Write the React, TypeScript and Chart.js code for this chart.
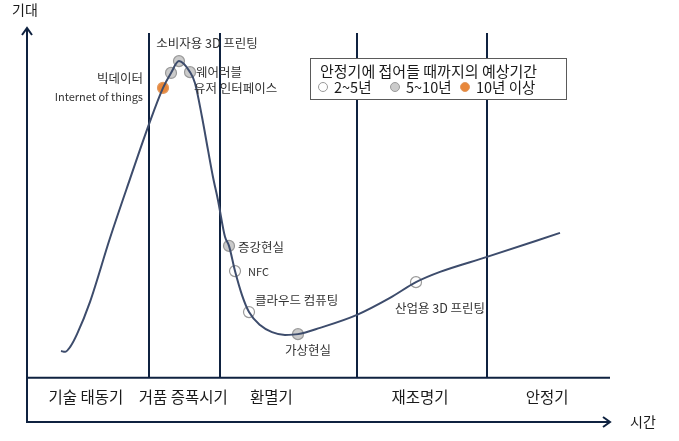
import { useEffect, useRef } from 'react';
import { Chart, registerables } from 'chart.js';

Chart.register(...registerables);

// ---- Data (x = 시간, y = 기대, both on a 0–100 scale) ----
const curveX = [5.83, 6.52, 7.38, 8.58, 10.81, 14.24, 17.67, 20.93, 23.33, 24.7, 26.07, 27.96, 28.82, 30.02, 31.05, 31.9, 32.76, 33.96, 34.65, 35.68, 36.88, 38.08, 39.97, 42.02, 44.25, 46.48, 50.26, 56.6, 62.26, 66.72, 70.84, 78.9, 91.42];
const curveY = [18.0, 17.8, 19.0, 22.3, 30.5, 46.7, 61.7, 75.6, 84.8, 88.6, 91.6, 88.8, 86.0, 77.4, 69.0, 62.2, 56.3, 47.0, 44.7, 38.3, 32.2, 27.9, 24.6, 22.8, 22.1, 22.3, 23.9, 27.2, 31.5, 35.5, 38.1, 41.9, 48.0];

const techNames = ['Internet of things', '빅데이터', '소비자용 3D 프린팅', '웨어러블\n유저 인터페이스', '증강현실', 'NFC', '클라우드 컴퓨팅', '가상현실', '산업용 3D 프린팅'];
const techX = [23.33, 24.7, 26.07, 27.96, 34.65, 35.68, 38.08, 46.48, 66.72];
const techY = [84.8, 88.6, 91.6, 88.8, 44.7, 38.3, 27.9, 22.3, 35.5];
const techGroup = [2, 1, 1, 1, 1, 0, 0, 1, 0];

const groupLabels = ['2~5년', '5~10년', '10년 이상'];
const legendTitle = '안정기에 접어들 때까지의 예상기간';

const phaseLabels = ['기술 태동기', '거품 증폭시기', '환멸기', '재조명기', '안정기'];
const phaseLabelX = [10.1, 26.8, 41.9, 67.4, 89.2];
const phaseBoundaries = [20.93, 33.1, 56.6, 78.9];
const phaseBaseY = 11.2;
const dividerTopY = 98.7;

const yAxisTitle = '기대';
const xAxisTitle = '시간';

// ---- Styles ----
const FONT = '"Noto Sans CJK KR", "Noto Sans", sans-serif';
const AXIS_COLOR = '#0f2240';
const CURVE_COLOR = '#3d4c6c';
const groupFill = ['#ffffff', '#cbcbcb', '#e8873a'];
const groupBorder = ['#9a9a9a', '#9a9a9a', '#e39a60'];

// label placement relative to marker: [dx, dy, align, fontSize]
const labelPlacement: [number, number, CanvasTextAlign, number][] = [
  [-20, 9, 'right', 11],
  [-28, 5, 'right', 12.5],
  [28, -18, 'center', 12.5],
  [6, 0, 'left', 12.5],
  [9, 1, 'left', 12.5],
  [13, 1, 'left', 11],
  [6, -12, 'left', 12.5],
  [10, 16, 'center', 12.5],
  [24, 26, 'center', 12.5],
];

const overlay = {
  id: 'hypeOverlay',
  beforeDatasetsDraw(chart: any) {
    const { ctx, chartArea, scales } = chart;
    const xs = scales.x;
    const ys = scales.y;
    ctx.save();
    ctx.strokeStyle = AXIS_COLOR;
    ctx.lineWidth = 2;
    // y axis
    const x0 = xs.getPixelForValue(0);
    const y0 = ys.getPixelForValue(0);
    const yTop = chartArea.top;
    const xRight = chartArea.right;
    ctx.beginPath();
    ctx.moveTo(x0, y0);
    ctx.lineTo(x0, yTop);
    ctx.stroke();
    ctx.beginPath();
    ctx.moveTo(x0 - 5, yTop + 7);
    ctx.lineTo(x0, yTop);
    ctx.lineTo(x0 + 5, yTop + 7);
    ctx.stroke();
    // x axis
    ctx.beginPath();
    ctx.moveTo(x0 - 1, y0);
    ctx.lineTo(xRight, y0);
    ctx.stroke();
    ctx.beginPath();
    ctx.moveTo(xRight - 7, y0 - 5);
    ctx.lineTo(xRight, y0);
    ctx.lineTo(xRight - 7, y0 + 5);
    ctx.stroke();
    // phase base line
    const yb = ys.getPixelForValue(phaseBaseY);
    ctx.beginPath();
    ctx.moveTo(x0, yb);
    ctx.lineTo(xRight, yb);
    ctx.stroke();
    // dividers
    const yd = ys.getPixelForValue(dividerTopY);
    phaseBoundaries.forEach((b) => {
      const xp = Math.round(xs.getPixelForValue(b));
      ctx.beginPath();
      ctx.moveTo(xp, yb);
      ctx.lineTo(xp, yd);
      ctx.stroke();
    });
    // phase labels
    ctx.fillStyle = '#1a1a1a';
    ctx.font = `15.5px ${FONT}`;
    ctx.textAlign = 'center';
    ctx.textBaseline = 'middle';
    const yl = (yb + y0) / 2 - 3;
    phaseLabels.forEach((t, i) => {
      ctx.fillText(t, xs.getPixelForValue(phaseLabelX[i]), yl);
    });
    // axis titles
    ctx.font = `14px ${FONT}`;
    ctx.textAlign = 'left';
    ctx.fillText(yAxisTitle, 12, 10);
    ctx.fillText(xAxisTitle, xRight + 20, y0);
    ctx.restore();
  },
  afterDatasetsDraw(chart: any) {
    const { ctx, scales } = chart;
    const xs = scales.x;
    const ys = scales.y;
    ctx.save();
    // technology labels
    ctx.fillStyle = '#333333';
    ctx.textBaseline = 'middle';
    techNames.forEach((name, i) => {
      const [dx, dy, align, fs] = labelPlacement[i];
      const mx = xs.getPixelForValue(techX[i]);
      const my = ys.getPixelForValue(techY[i]);
      ctx.font = `${fs}px ${FONT}`;
      ctx.textAlign = align;
      name.split('\n').forEach((line, k) => {
        ctx.fillText(line, mx + dx - (k > 0 ? 2 : 0), my + dy + k * 16);
      });
    });
    // legend box
    const bx = 310, by = 58, bw = 256, bh = 41;
    ctx.fillStyle = '#ffffff';
    ctx.fillRect(bx, by, bw, bh);
    ctx.strokeStyle = '#5a5a5a';
    ctx.lineWidth = 1;
    ctx.strokeRect(bx + 0.5, by + 0.5, bw, bh);
    ctx.fillStyle = '#1a1a1a';
    ctx.font = `15px ${FONT}`;
    ctx.textAlign = 'left';
    ctx.fillText(legendTitle, bx + 10, by + 13);
    ctx.font = `14.5px ${FONT}`;
    const itemX = [bx + 13, bx + 85, bx + 155];
    groupLabels.forEach((lab, g) => {
      const cx = itemX[g];
      const cy = by + 29;
      ctx.beginPath();
      ctx.arc(cx, cy, 4.5, 0, Math.PI * 2);
      ctx.fillStyle = groupFill[g];
      ctx.fill();
      ctx.strokeStyle = groupBorder[g];
      ctx.lineWidth = 1;
      ctx.stroke();
      ctx.fillStyle = '#1a1a1a';
      ctx.fillText(lab, cx + 11, cy);
    });
    ctx.restore();
  },
};

export default function App() {
  const ref = useRef<HTMLCanvasElement>(null);
  useEffect(() => {
    const markerSets = [0, 1, 2].map((g) => ({
      type: 'scatter' as const,
      label: groupLabels[g],
      data: techX.map((x, i) => ({ x, y: techY[i] })).filter((_, i) => techGroup[i] === g),
      pointRadius: 5.5,
      pointBackgroundColor: groupFill[g],
      pointBorderColor: groupBorder[g],
      pointBorderWidth: 1.2,
      showLine: false,
    }));
    const chart = new Chart(ref.current!, {
      type: 'line',
      data: {
        datasets: [
          {
            label: 'hype',
            data: curveX.map((x, i) => ({ x, y: curveY[i] })),
            borderColor: CURVE_COLOR,
            borderWidth: 2,
            pointRadius: 0,
            cubicInterpolationMode: 'monotone',
            fill: false,
          } as any,
          ...markerSets,
        ],
      },
      options: {
        animation: false,
        responsive: false,
        devicePixelRatio: 1,
        layout: { padding: { left: 27, top: 28, right: 69, bottom: 19 } },
        scales: {
          x: { type: 'linear', min: 0, max: 100, display: false },
          y: { type: 'linear', min: 0, max: 100, display: false },
        },
        plugins: { legend: { display: false }, tooltip: { enabled: false } },
      },
      plugins: [overlay],
    });
    return () => chart.destroy();
  }, []);
  return (
    <div style={{ position: 'fixed', left: 0, top: 0, width: 679, height: 441, background: '#ffffff' }}>
      <canvas ref={ref} width={679} height={441} />
    </div>
  );
}
